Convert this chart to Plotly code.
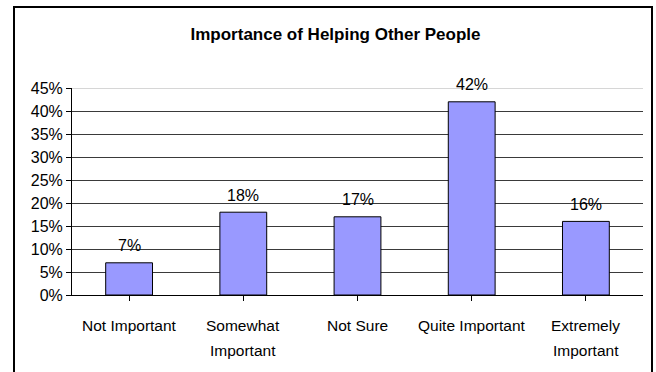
import plotly.graph_objects as go

# Survey responses: how important is helping other people
categories = ["Not Important", "Somewhat\nImportant", "Not Sure", "Quite Important", "Extremely\nImportant"]
percentages = [7, 18, 17, 42, 16]
y_ticks = [0, 5, 10, 15, 20, 25, 30, 35, 40, 45]
y_tick_labels = [f"{v}%" for v in y_ticks]

FONT = "Liberation Sans, Arial, sans-serif"
W, H = 656, 372
M_L, M_R, M_T, M_B = 72, 13, 88, 77
PLOT_W = W - M_L - M_R
PLOT_H = H - M_T - M_B


def px_x(px):
    """Pixel column -> paper x."""
    return (px - M_L) / PLOT_W


def px_y(px):
    """Pixel row -> paper y."""
    return (H - M_B - px) / PLOT_H


fig = go.Figure(
    go.Bar(
        x=list(range(len(categories))),
        y=percentages,
        marker=dict(color="#9999FF", line=dict(color="#000000", width=1)),
        width=0.41,
        hoverinfo="skip",
    )
)

annotations = []
# value labels above each bar
for i, v in enumerate(percentages):
    annotations.append(dict(
        x=i, y=v, xref="x", yref="y", text=f"{v}%", showarrow=False,
        yanchor="middle", yshift=17, font=dict(family=FONT, size=16, color="#000"),
    ))
# category labels under the axis (Excel-style wider line spacing)
for i, name in enumerate(categories):
    for j, line in enumerate(name.split("\n")):
        annotations.append(dict(
            x=i, y=0, xref="x", yref="paper", text=line, showarrow=False,
            yanchor="middle", yshift=-30 - 25 * j,
            font=dict(family=FONT, size=15.5, color="#000"),
        ))

fig.update_layout(
    width=W, height=H,
    margin=dict(l=M_L, r=M_R, t=M_T, b=M_B),
    paper_bgcolor="white", plot_bgcolor="white",
    showlegend=False,
    title=dict(
        text="<b>Importance of Helping Other People</b>",
        x=335.5 / W, xref="container", xanchor="center",
        y=1 - 34 / H, yref="container", yanchor="middle",
        font=dict(family=FONT, size=17, color="#000"),
    ),
    xaxis=dict(
        range=[-0.5, len(categories) - 0.5],
        tickvals=list(range(len(categories))),
        showticklabels=False,
        tickson="boundaries",
        ticks="outside", ticklen=5, tickcolor="#000",
        showline=True, linecolor="#000", linewidth=1,
        showgrid=False, zeroline=False, fixedrange=True,
    ),
    yaxis=dict(
        range=[0, 45],
        tickvals=y_ticks, ticktext=y_tick_labels,
        ticks="outside", ticklen=5, tickcolor="#000",
        tickfont=dict(family=FONT, size=16, color="#000"),
        showline=True, linecolor="#000", linewidth=1,
        showgrid=True, gridcolor="#3a3a3a", gridwidth=1,
        zeroline=False, fixedrange=True,
    ),
    annotations=annotations,
    shapes=[
        # lighter top gridline
        dict(type="line", xref="paper", yref="y", x0=0, x1=1, y0=45, y1=45,
             line=dict(color="#c8c8c8", width=1.5), layer="above"),
        # chart frame (bottom edge runs past the page)
        dict(type="rect", xref="paper", yref="paper",
             x0=px_x(14), x1=px_x(652), y0=px_y(380), y1=px_y(7),
             line=dict(color="#000", width=2), fillcolor="rgba(0,0,0,0)", layer="below"),
    ],
)

fig.write_html("out.html")
